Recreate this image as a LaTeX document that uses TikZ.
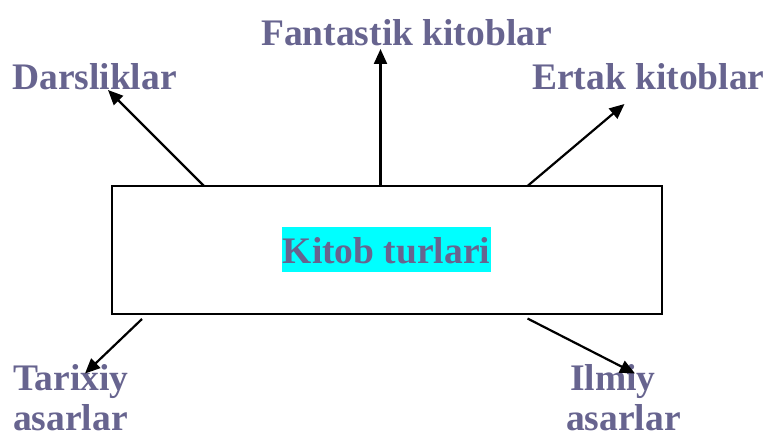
\documentclass[tikz,border=0pt]{standalone}
\usepackage{fontspec}
\setmainfont{Liberation Serif}
\usetikzlibrary{arrows.meta}
\definecolor{labelcol}{RGB}{103,100,143}
\definecolor{hilite}{RGB}{0,255,255}
\tikzset{
  lbl/.style={font=\bfseries\fontsize{37.5}{42}\selectfont, text=labelcol, inner sep=0pt},
  conn/.style={line width=2.2pt, -{Triangle[length=15pt,width=13pt]}},
  mainbox/.style={draw, line width=2pt, minimum width=550pt, minimum height=128pt, inner sep=0pt}
}
\begin{document}
\begin{tikzpicture}[x=1pt,y=-1pt]
\useasboundingbox (0,0) rectangle (765,438);
% central box
\node[mainbox] (box) at (387,250) {};
\node[lbl, fill=hilite, text height=36pt, text depth=8.5pt, inner xsep=0.5pt, inner ysep=0pt, anchor=base] (center) at (386.5,263.5) {Kitob turlari};
% labels
\node[lbl, anchor=base west] (fant) at (261,46) {Fantastik kitoblar};
\node[lbl, anchor=base west] (dars) at (12,90) {Darsliklar};
\node[lbl, anchor=base west] (ertak) at (532,90) {Ertak kitoblar};
\node[lbl, anchor=base west] (tarixA) at (13,390.5) {Tarixiy};
\node[lbl, anchor=base west] (tarixB) at (13,430) {asarlar};
\node[lbl, anchor=base west] (ilmiyA) at (570,390.5) {Ilmiy};
\node[lbl, anchor=base west] (ilmiyB) at (566,430) {asarlar};
% connector ends
\coordinate (s1) at (204,186);
\coordinate (t1) at (108,90);
\coordinate (s2) at (380.5,186);
\coordinate (t2) at (380.5,49);
\coordinate (s3) at (527.5,186);
\coordinate (t3) at (624.5,104);
\coordinate (s4) at (142,319);
\coordinate (t4) at (85,373.5);
\coordinate (s5) at (527.5,318.5);
\coordinate (t5) at (635,373.5);
\draw[conn] (s1) -- (t1);
\draw[conn] (s2) -- (t2);
\draw[conn] (s3) -- (t3);
\draw[conn] (s4) -- (t4);
\draw[conn] (s5) -- (t5);
\end{tikzpicture}
\end{document}
